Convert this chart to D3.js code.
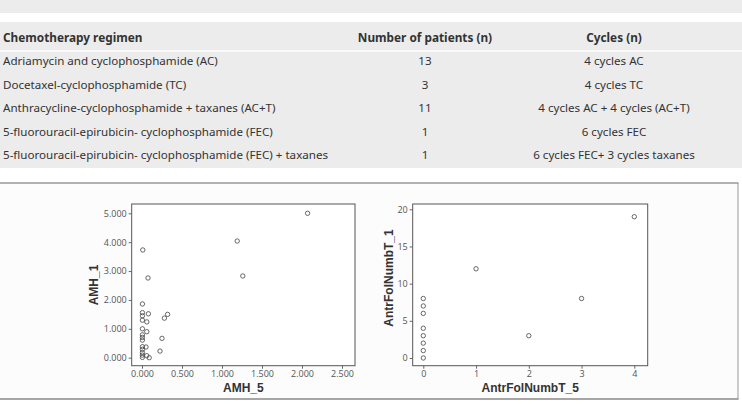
<!DOCTYPE html>
<html>
<head>
<meta charset="utf-8">
<script src="https://cdn.jsdelivr.net/npm/d3@7"></script>
<style>
  body { margin: 0; background: #fff; }
  svg text { font-family: "Noto Sans", "Open Sans", sans-serif; }
</style>
</head>
<body>
<svg class="chart"></svg>
<script>
// table data
const tableHeaders = ['Chemotherapy regimen', 'Number of patients (n)', 'Cycles (n)'];
const regimens = [
  'Adriamycin and cyclophosphamide (AC)',
  'Docetaxel-cyclophosphamide (TC)',
  'Anthracycline-cyclophosphamide + taxanes (AC+T)',
  '5-fluorouracil-epirubicin- cyclophosphamide (FEC)',
  '5-fluorouracil-epirubicin- cyclophosphamide (FEC) + taxanes'
];
const patients = [13, 3, 11, 1, 1];
const cycles = ['4 cycles AC', '4 cycles TC', '4 cycles AC + 4 cycles (AC+T)', '6 cycles FEC', '6 cycles FEC+ 3 cycles taxanes'];

// scatter 1: AMH_5 vs AMH_1
const amh5 = [2.07, 1.19, 1.26, 0.01, 0.075, 0.005, 0.005, 0.005, 0.08, 0.005, 0.06, 0.32, 0.28, 0.005,
  0.06, 0.005, 0.005, 0.005, 0.25, 0.005, 0.05, 0.005, 0.005, 0.225, 0.005, 0.06, 0.09, 0.005];
const amh1 = [5.0, 4.04, 2.83, 3.73, 2.76, 1.86, 1.56, 1.45, 1.52, 1.30, 1.24, 1.50, 1.37, 1.0,
  0.90, 0.79, 0.70, 0.61, 0.67, 0.38, 0.37, 0.29, 0.18, 0.23, 0.01, 0.07, 0.0, 0.09];
const amhXTicks = [0, 0.5, 1, 1.5, 2, 2.5];
const amhYTicks = [0, 1, 2, 3, 4, 5];

// scatter 2: AntrFolNumbT_5 vs AntrFolNumbT_1
const afn5 = [0, 0, 0, 0, 0, 0, 0, 0, 1, 2, 3, 4];
const afn1 = [0, 1, 2, 3, 4, 6, 7, 8, 12, 3, 8, 19];
const afnXTicks = [0, 1, 2, 3, 4];
const afnYTicks = [0, 5, 10, 15, 20];

const W = 742, H = 406;
const svg = d3.select('.chart').attr('width', W).attr('height', H);

// ---- table ----
svg.append('rect').attr('x', 0).attr('y', 0).attr('width', W).attr('height', 13).attr('fill', '#ececec');
svg.append('rect').attr('x', 0).attr('y', 22).attr('width', W).attr('height', 146).attr('fill', '#ececec');
svg.append('rect').attr('x', 0).attr('y', 50).attr('width', W).attr('height', 2).attr('fill', '#fafafa');

const colX = [3, 425, 614];
const colAnchor = ['start', 'middle', 'middle'];

svg.append('g').selectAll('text').data(tableHeaders)
  .enter().append('text')
  .attr('x', (d, i) => colX[i])
  .attr('y', 42)
  .attr('text-anchor', (d, i) => colAnchor[i])
  .attr('font-size', 11.8)
  .attr('font-weight', 'bold')
  .attr('fill', '#333')
  .text(d => d);

const rowY = d3.scalePoint().domain(d3.range(regimens.length)).range([65, 159]);
const rows = regimens.map((r, i) => [r, patients[i], cycles[i]]);
svg.append('g').selectAll('g').data(rows)
  .enter().append('g')
  .attr('transform', (d, i) => `translate(0,${rowY(i)})`)
  .selectAll('text').data(d => d)
  .enter().append('text')
  .attr('x', (d, i) => colX[i])
  .attr('text-anchor', (d, i) => colAnchor[i])
  .attr('font-size', 11.6)
  .attr('fill', '#333')
  .text(d => d);

// ---- figure frame ----
svg.append('rect').attr('x', 0).attr('y', 183).attr('width', 738).attr('height', 216).attr('fill', '#fcfcfc');
svg.append('line').attr('x1', 0).attr('x2', 738.5).attr('y1', 183).attr('y2', 183).attr('stroke', '#999').attr('stroke-width', 1.5);
svg.append('line').attr('x1', 0).attr('x2', 738.5).attr('y1', 399).attr('y2', 399).attr('stroke', '#888').attr('stroke-width', 1.5);
svg.append('line').attr('x1', 738).attr('x2', 738).attr('y1', 183).attr('y2', 399).attr('stroke', '#999').attr('stroke-width', 1);

function scatter(opts) {
  const { box, x, y, xs, ys, xTicks, yTicks, fmt, xLabel, yLabel, yLabelX, yLabelY } = opts;
  const g = svg.append('g');
  g.append('rect')
    .attr('x', box.l).attr('y', box.t)
    .attr('width', box.r - box.l).attr('height', box.b - box.t)
    .attr('fill', '#fff').attr('stroke', '#555').attr('stroke-width', 1);

  const xAxis = g.append('g').attr('transform', `translate(0,${box.b})`)
    .call(d3.axisBottom(x).tickValues(xTicks).tickFormat(fmt).tickSize(3).tickPadding(2));
  const yAxis = g.append('g').attr('transform', `translate(${box.l},0)`)
    .call(d3.axisLeft(y).tickValues(yTicks).tickFormat(fmt).tickSize(3).tickPadding(2));
  [xAxis, yAxis].forEach(a => {
    a.select('.domain').remove();
    a.selectAll('line').attr('stroke', '#666');
    a.selectAll('text').attr('fill', '#555').attr('font-size', 9)
      .style('font-family', '"Open Sans", "Noto Sans", sans-serif');
  });

  g.append('g').selectAll('circle').data(xs)
    .enter().append('circle')
    .attr('cx', d => x(d))
    .attr('cy', (d, i) => y(ys[i]))
    .attr('r', 2.2)
    .attr('fill', 'none')
    .attr('stroke', '#444')
    .attr('stroke-width', 0.8);

  g.append('text')
    .attr('x', (box.l + box.r) / 2).attr('y', 392)
    .attr('text-anchor', 'middle')
    .attr('font-size', 12).attr('font-weight', 'bold').attr('fill', '#333')
    .style('font-family', '"Liberation Sans", Arial, sans-serif')
    .text(xLabel);
  g.append('text')
    .attr('transform', `translate(${yLabelX},${yLabelY}) rotate(-90)`)
    .attr('text-anchor', 'middle')
    .attr('font-size', 12).attr('font-weight', 'bold').attr('fill', '#333')
    .style('font-family', '"Liberation Sans", Arial, sans-serif')
    .text(yLabel);
}

scatter({
  box: { l: 131.7, r: 355, t: 204, b: 365.7 },
  x: d3.scaleLinear().domain([0, 2.5]).range([142, 342]),
  y: d3.scaleLinear().domain([0, 5]).range([357.7, 213.3]),
  xs: amh5, ys: amh1,
  xTicks: amhXTicks, yTicks: amhYTicks,
  fmt: d3.format('.3f'),
  xLabel: 'AMH_5', yLabel: 'AMH_1', yLabelX: 97.5, yLabelY: 285
});

scatter({
  box: { l: 412.7, r: 647.7, t: 204, b: 365.7 },
  x: d3.scaleLinear().domain([0, 4]).range([423.3, 634.3]),
  y: d3.scaleLinear().domain([0, 20]).range([358, 209.3]),
  xs: afn5, ys: afn1,
  xTicks: afnXTicks, yTicks: afnYTicks,
  fmt: d3.format('d'),
  xLabel: 'AntrFolNumbT_5', yLabel: 'AntrFolNumbT_1', yLabelX: 392.5, yLabelY: 278
});
</script>
</body>
</html>
